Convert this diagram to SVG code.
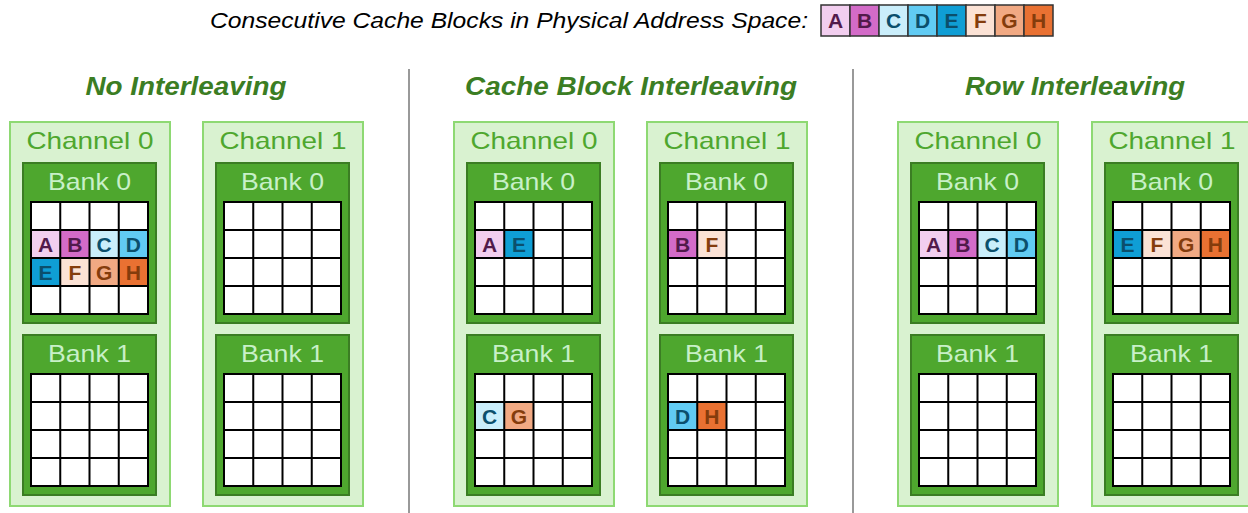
<svg xmlns="http://www.w3.org/2000/svg" xmlns:xlink="http://www.w3.org/1999/xlink" width="1248" height="513" viewBox="0 0 1248 513">
<style>
.ch{fill:#D9F2D0;stroke:#8ED973;stroke-width:2}
.bank{fill:#4EA72E;stroke:#3B7D23;stroke-width:2}
.gbg{fill:#FFFFFF}
.gl{fill:none;stroke:#000;stroke-width:2}
.cht{font-family:"Liberation Sans",Arial,sans-serif;font-size:24px;fill:#4EA72E;text-anchor:middle}
.bkt{font-family:"Liberation Sans",Arial,sans-serif;font-size:24px;fill:#C8F0C8;text-anchor:middle}
.sec{font-family:"Liberation Sans",Arial,sans-serif;font-size:25px;font-weight:bold;font-style:italic;fill:#3B7D23;text-anchor:middle}
.leg{font-family:"Liberation Sans",Arial,sans-serif;font-size:22px;font-style:italic;fill:#000}
.lt{font-family:"Liberation Sans",Arial,sans-serif;font-size:21px;font-weight:bold;text-anchor:middle}
.lb{stroke:#333;stroke-width:1.5}
.div{stroke:#999;stroke-width:2}
.fA{fill:#F2CEEF}.fB{fill:#D36BC8}.fC{fill:#CAEEFB}.fD{fill:#61CBF3}.fE{fill:#0F9ED5}.fF{fill:#FBE2D5}.fG{fill:#F1A983}.fH{fill:#E97132}
.tP{fill:#511A4B}.tB{fill:#0B4F6C}.tO{fill:#843C0C}
</style>
<defs>
<g id="lines">
<rect x="0" y="0" width="117" height="112" class="gl"/>
<path class="gl" d="M29.25 0V112M58.5 0V112M87.75 0V112M0 28H117M0 56H117M0 84H117"/>
</g>
</defs>

<g id="legend">
<text class="leg" x="210" y="28" textLength="598" lengthAdjust="spacingAndGlyphs">Consecutive Cache Blocks in Physical Address Space:</text>
<rect class="fA lb" x="821" y="5" width="29" height="31"/>
<rect class="fB lb" x="850" y="5" width="29" height="31"/>
<rect class="fC lb" x="879" y="5" width="29" height="31"/>
<rect class="fD lb" x="908" y="5" width="29" height="31"/>
<rect class="fE lb" x="937" y="5" width="29" height="31"/>
<rect class="fF lb" x="966" y="5" width="29" height="31"/>
<rect class="fG lb" x="995" y="5" width="29" height="31"/>
<rect class="fH lb" x="1024" y="5" width="29" height="31"/>
<text class="lt tP" x="835.5" y="28">A</text>
<text class="lt tP" x="864.5" y="28">B</text>
<text class="lt tB" x="893.5" y="28">C</text>
<text class="lt tB" x="922.5" y="28">D</text>
<text class="lt tB" x="951.5" y="28">E</text>
<text class="lt tO" x="980.5" y="28">F</text>
<text class="lt tO" x="1009.5" y="28">G</text>
<text class="lt tO" x="1038.5" y="28">H</text>
</g>

<g id="dividers">
<line class="div" x1="409" y1="69" x2="409" y2="513"/>
<line class="div" x1="853" y1="69" x2="853" y2="513"/>
</g>

<g id="titles">
<text class="sec" x="186" y="95" textLength="201" lengthAdjust="spacingAndGlyphs">No Interleaving</text>
<text class="sec" x="631" y="95" textLength="332" lengthAdjust="spacingAndGlyphs">Cache Block Interleaving</text>
<text class="sec" x="1075" y="95" textLength="220" lengthAdjust="spacingAndGlyphs">Row Interleaving</text>
</g>

<!-- Section 1 -->
<g id="s1-ch0">
<rect class="ch" x="10" y="122" width="160" height="384"/>
<text class="cht" x="90" y="149" textLength="127" lengthAdjust="spacingAndGlyphs">Channel 0</text>
<rect class="bank" x="23" y="163" width="133" height="160"/>
<text class="bkt" x="89.5" y="190" textLength="83" lengthAdjust="spacingAndGlyphs">Bank 0</text>
<rect class="gbg" x="31" y="202" width="117" height="112"/>
<rect class="fA" x="31" y="230" width="29.25" height="28"/>
<rect class="fB" x="60.25" y="230" width="29.25" height="28"/>
<rect class="fC" x="89.5" y="230" width="29.25" height="28"/>
<rect class="fD" x="118.75" y="230" width="29.25" height="28"/>
<rect class="fE" x="31" y="258" width="29.25" height="28"/>
<rect class="fF" x="60.25" y="258" width="29.25" height="28"/>
<rect class="fG" x="89.5" y="258" width="29.25" height="28"/>
<rect class="fH" x="118.75" y="258" width="29.25" height="28"/>
<use xlink:href="#lines" href="#lines" x="31" y="202"/>
<text class="lt tP" x="45.6" y="251.5">A</text>
<text class="lt tP" x="74.9" y="251.5">B</text>
<text class="lt tB" x="104.1" y="251.5">C</text>
<text class="lt tB" x="133.4" y="251.5">D</text>
<text class="lt tB" x="45.6" y="279.5">E</text>
<text class="lt tO" x="74.9" y="279.5">F</text>
<text class="lt tO" x="104.1" y="279.5">G</text>
<text class="lt tO" x="133.4" y="279.5">H</text>
<rect class="bank" x="23" y="335" width="133" height="160"/>
<text class="bkt" x="89.5" y="362" textLength="83" lengthAdjust="spacingAndGlyphs">Bank 1</text>
<rect class="gbg" x="31" y="374" width="117" height="112"/>
<use xlink:href="#lines" href="#lines" x="31" y="374"/>
</g>

<g id="s1-ch1">
<rect class="ch" x="203" y="122" width="160" height="384"/>
<text class="cht" x="283" y="149" textLength="127" lengthAdjust="spacingAndGlyphs">Channel 1</text>
<rect class="bank" x="216" y="163" width="133" height="160"/>
<text class="bkt" x="282.5" y="190" textLength="83" lengthAdjust="spacingAndGlyphs">Bank 0</text>
<rect class="gbg" x="224" y="202" width="117" height="112"/>
<use xlink:href="#lines" href="#lines" x="224" y="202"/>
<rect class="bank" x="216" y="335" width="133" height="160"/>
<text class="bkt" x="282.5" y="362" textLength="83" lengthAdjust="spacingAndGlyphs">Bank 1</text>
<rect class="gbg" x="224" y="374" width="117" height="112"/>
<use xlink:href="#lines" href="#lines" x="224" y="374"/>
</g>

<!-- Section 2 -->
<g id="s2-ch0">
<rect class="ch" x="454" y="122" width="160" height="384"/>
<text class="cht" x="534" y="149" textLength="127" lengthAdjust="spacingAndGlyphs">Channel 0</text>
<rect class="bank" x="467" y="163" width="133" height="160"/>
<text class="bkt" x="533.5" y="190" textLength="83" lengthAdjust="spacingAndGlyphs">Bank 0</text>
<rect class="gbg" x="475" y="202" width="117" height="112"/>
<rect class="fA" x="475" y="230" width="29.25" height="28"/>
<rect class="fE" x="504.25" y="230" width="29.25" height="28"/>
<use xlink:href="#lines" href="#lines" x="475" y="202"/>
<text class="lt tP" x="489.6" y="251.5">A</text>
<text class="lt tB" x="518.9" y="251.5">E</text>
<rect class="bank" x="467" y="335" width="133" height="160"/>
<text class="bkt" x="533.5" y="362" textLength="83" lengthAdjust="spacingAndGlyphs">Bank 1</text>
<rect class="gbg" x="475" y="374" width="117" height="112"/>
<rect class="fC" x="475" y="402" width="29.25" height="28"/>
<rect class="fG" x="504.25" y="402" width="29.25" height="28"/>
<use xlink:href="#lines" href="#lines" x="475" y="374"/>
<text class="lt tB" x="489.6" y="423.5">C</text>
<text class="lt tO" x="518.9" y="423.5">G</text>
</g>

<g id="s2-ch1">
<rect class="ch" x="647" y="122" width="160" height="384"/>
<text class="cht" x="727" y="149" textLength="127" lengthAdjust="spacingAndGlyphs">Channel 1</text>
<rect class="bank" x="660" y="163" width="133" height="160"/>
<text class="bkt" x="726.5" y="190" textLength="83" lengthAdjust="spacingAndGlyphs">Bank 0</text>
<rect class="gbg" x="668" y="202" width="117" height="112"/>
<rect class="fB" x="668" y="230" width="29.25" height="28"/>
<rect class="fF" x="697.25" y="230" width="29.25" height="28"/>
<use xlink:href="#lines" href="#lines" x="668" y="202"/>
<text class="lt tP" x="682.6" y="251.5">B</text>
<text class="lt tO" x="711.9" y="251.5">F</text>
<rect class="bank" x="660" y="335" width="133" height="160"/>
<text class="bkt" x="726.5" y="362" textLength="83" lengthAdjust="spacingAndGlyphs">Bank 1</text>
<rect class="gbg" x="668" y="374" width="117" height="112"/>
<rect class="fD" x="668" y="402" width="29.25" height="28"/>
<rect class="fH" x="697.25" y="402" width="29.25" height="28"/>
<use xlink:href="#lines" href="#lines" x="668" y="374"/>
<text class="lt tB" x="682.6" y="423.5">D</text>
<text class="lt tO" x="711.9" y="423.5">H</text>
</g>

<!-- Section 3 -->
<g id="s3-ch0">
<rect class="ch" x="898" y="122" width="160" height="384"/>
<text class="cht" x="978" y="149" textLength="127" lengthAdjust="spacingAndGlyphs">Channel 0</text>
<rect class="bank" x="911" y="163" width="133" height="160"/>
<text class="bkt" x="977.5" y="190" textLength="83" lengthAdjust="spacingAndGlyphs">Bank 0</text>
<rect class="gbg" x="919" y="202" width="117" height="112"/>
<rect class="fA" x="919" y="230" width="29.25" height="28"/>
<rect class="fB" x="948.25" y="230" width="29.25" height="28"/>
<rect class="fC" x="977.5" y="230" width="29.25" height="28"/>
<rect class="fD" x="1006.75" y="230" width="29.25" height="28"/>
<use xlink:href="#lines" href="#lines" x="919" y="202"/>
<text class="lt tP" x="933.6" y="251.5">A</text>
<text class="lt tP" x="962.9" y="251.5">B</text>
<text class="lt tB" x="992.1" y="251.5">C</text>
<text class="lt tB" x="1021.4" y="251.5">D</text>
<rect class="bank" x="911" y="335" width="133" height="160"/>
<text class="bkt" x="977.5" y="362" textLength="83" lengthAdjust="spacingAndGlyphs">Bank 1</text>
<rect class="gbg" x="919" y="374" width="117" height="112"/>
<use xlink:href="#lines" href="#lines" x="919" y="374"/>
</g>

<g id="s3-ch1">
<rect class="ch" x="1092" y="122" width="160" height="384"/>
<text class="cht" x="1172" y="149" textLength="127" lengthAdjust="spacingAndGlyphs">Channel 1</text>
<rect class="bank" x="1105" y="163" width="133" height="160"/>
<text class="bkt" x="1171.5" y="190" textLength="83" lengthAdjust="spacingAndGlyphs">Bank 0</text>
<rect class="gbg" x="1113" y="202" width="117" height="112"/>
<rect class="fE" x="1113" y="230" width="29.25" height="28"/>
<rect class="fF" x="1142.25" y="230" width="29.25" height="28"/>
<rect class="fG" x="1171.5" y="230" width="29.25" height="28"/>
<rect class="fH" x="1200.75" y="230" width="29.25" height="28"/>
<use xlink:href="#lines" href="#lines" x="1113" y="202"/>
<text class="lt tB" x="1127.6" y="251.5">E</text>
<text class="lt tO" x="1156.9" y="251.5">F</text>
<text class="lt tO" x="1186.1" y="251.5">G</text>
<text class="lt tO" x="1215.4" y="251.5">H</text>
<rect class="bank" x="1105" y="335" width="133" height="160"/>
<text class="bkt" x="1171.5" y="362" textLength="83" lengthAdjust="spacingAndGlyphs">Bank 1</text>
<rect class="gbg" x="1113" y="374" width="117" height="112"/>
<use xlink:href="#lines" href="#lines" x="1113" y="374"/>
</g>
</svg>
